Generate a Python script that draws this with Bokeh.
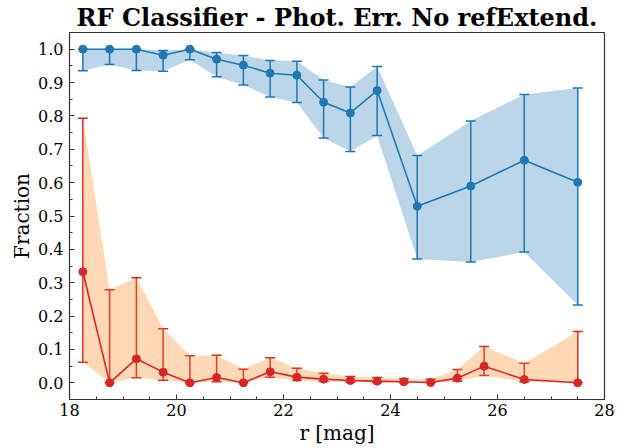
import numpy as np
from bokeh.plotting import figure
from bokeh.models import Range1d, FixedTicker, Whisker, TeeHead, ColumnDataSource, NumeralTickFormatter
from bokeh.embed import file_html
from bokeh.resources import INLINE

# Blue series (top)
blue_x = [18.25, 18.75, 19.25, 19.75, 20.25, 20.75, 21.25, 21.75, 22.25, 22.75, 23.25, 23.75, 24.5, 25.5, 26.5, 27.5]
blue_y = [1.0, 1.0, 1.0, 0.982, 1.0, 0.970, 0.952, 0.928, 0.922, 0.841, 0.809, 0.876, 0.529, 0.590, 0.667, 0.601]
blue_hi = [1.0, 1.0, 1.0, 0.996, 1.0, 0.990, 0.981, 0.966, 0.964, 0.908, 0.887, 0.948, 0.681, 0.785, 0.864, 0.884]
blue_lo = [0.935, 0.954, 0.936, 0.934, 0.968, 0.917, 0.893, 0.857, 0.840, 0.734, 0.693, 0.741, 0.371, 0.362, 0.392, 0.233]

# Red series (bottom)
red_x = [18.25, 18.75, 19.25, 19.75, 20.25, 20.75, 21.25, 21.75, 22.25, 22.75, 23.25, 23.75, 24.25, 24.75, 25.25, 25.75, 26.5, 27.5]
red_y = [0.333, 0.0, 0.072, 0.032, 0.0, 0.016, 0.0, 0.033, 0.017, 0.011, 0.007, 0.005, 0.003, 0.001, 0.014, 0.050, 0.010, 0.0]
red_hi = [0.793, 0.279, 0.315, 0.162, 0.081, 0.083, 0.041, 0.075, 0.044, 0.029, 0.019, 0.016, 0.013, 0.011, 0.040, 0.109, 0.059, 0.154]
red_lo = [0.062, 0.0, 0.015, 0.008, 0.0, 0.003, 0.0, 0.017, 0.007, 0.004, 0.002, 0.001, 0.0, 0.0, 0.005, 0.022, 0.003, 0.0]

x_ticks = [18, 20, 22, 24, 26, 28]
y_ticks = [round(0.1 * i, 1) for i in range(11)]

FONT = "DejaVu Serif"
BLUE = "#1f77b4"
RED = "#d62728"
ORANGE = "#ff7f0e"

p = figure(width=630, height=448, output_backend="svg", toolbar_location=None,
           x_range=Range1d(18, 28), y_range=Range1d(-0.05, 1.05),
           min_border_left=69, min_border_right=26, min_border_top=31, min_border_bottom=49)

p.title.text = "RF Classifier - Phot. Err. No refExtend."
p.title.align = "center"
p.title.text_font = FONT
p.title.text_font_size = "24px"
p.title.text_font_style = "bold"
p.title.text_color = "black"
p.title.offset = 0
p.title.standoff = 1

p.xgrid.visible = False
p.ygrid.visible = False
p.outline_line_color = "#333333"
p.outline_line_width = 1.2

p.xaxis.ticker = FixedTicker(ticks=x_ticks, minor_ticks=list(np.arange(18, 28.01, 0.5)))
p.yaxis.ticker = FixedTicker(ticks=y_ticks, minor_ticks=list(np.arange(-0.05, 1.051, 0.05)))
p.yaxis.formatter = NumeralTickFormatter(format="0.0")
for ax in (p.xaxis, p.yaxis):
    ax.major_tick_in = 5
    ax.major_tick_out = 0
    ax.minor_tick_in = 3
    ax.minor_tick_out = 0
    ax.major_label_text_font = FONT
    ax.major_label_text_font_size = "16px"
    ax.major_label_text_color = "black"
    ax.axis_label_text_font = FONT
    ax.axis_label_text_font_size = "20px"
    ax.axis_label_text_font_style = "normal"
    ax.axis_label_text_color = "black"
    ax.axis_line_color = "#333333"
    ax.major_tick_line_color = "#333333"
    ax.minor_tick_line_color = "#333333"
p.xaxis.axis_label = "r [mag]"
p.yaxis.axis_label = "Fraction"
p.xaxis.major_label_standoff = 4
p.yaxis.major_label_standoff = 6
p.xaxis.axis_label_standoff = 2
p.yaxis.axis_label_standoff = 1

bsrc = ColumnDataSource(dict(x=blue_x, y=blue_y, hi=blue_hi, lo=blue_lo))
rsrc = ColumnDataSource(dict(x=red_x, y=red_y, hi=red_hi, lo=red_lo))

p.varea(x="x", y1="lo", y2="hi", source=bsrc, fill_color=BLUE, fill_alpha=0.3)
p.varea(x="x", y1="lo", y2="hi", source=rsrc, fill_color=ORANGE, fill_alpha=0.3)

for src, col in ((bsrc, BLUE), (rsrc, RED)):
    w = Whisker(base="x", upper="hi", lower="lo", source=src, dimension="height",
                line_color=col, line_width=1.5,
                upper_head=TeeHead(size=10, line_color=col, line_width=1.5),
                lower_head=TeeHead(size=10, line_color=col, line_width=1.5))
    p.add_layout(w)
    p.line("x", "y", source=src, line_color=col, line_width=1.6)
    p.scatter("x", "y", source=src, size=8, fill_color=col, line_color=col)

open("out.html", "w").write(file_html(p, INLINE))
